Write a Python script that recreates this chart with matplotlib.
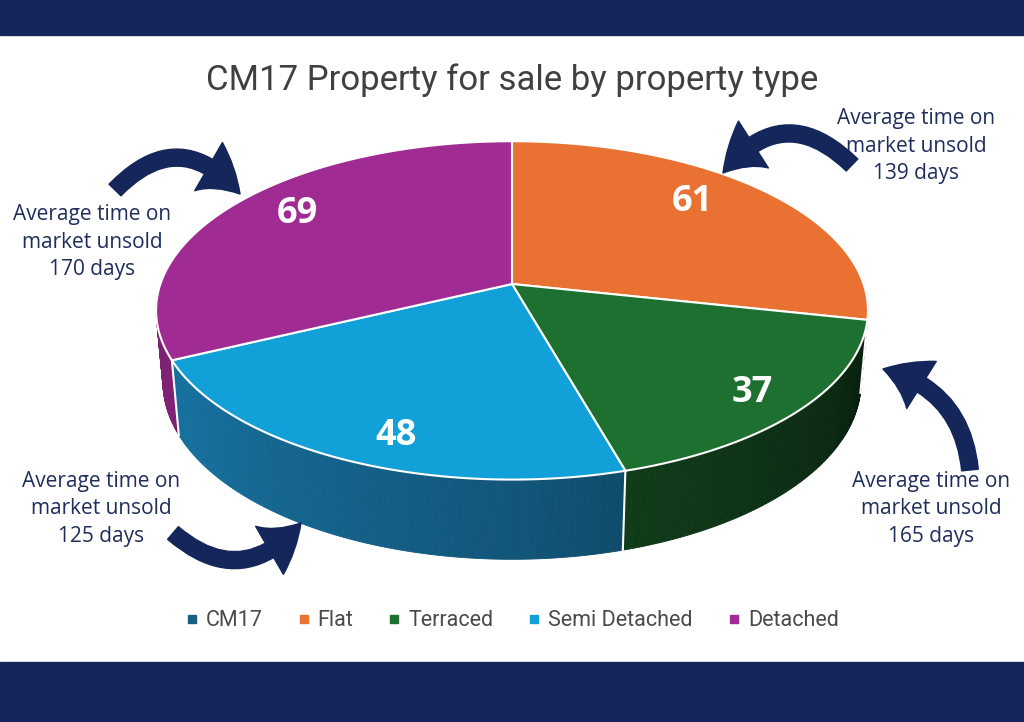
import numpy as np
import matplotlib
matplotlib.use('Agg')
import matplotlib.pyplot as plt
from matplotlib.patches import Polygon, Rectangle, FancyArrowPatch
from matplotlib.lines import Line2D
from matplotlib import font_manager

# ---------------- data ----------------
title = 'CM17 Property for sale by property type'
categories = ['Flat', 'Terraced', 'Semi Detached', 'Detached']
values = [61, 37, 48, 69]
legend_labels = ['CM17', 'Flat', 'Terraced', 'Semi Detached', 'Detached']
days_unsold = [139, 165, 125, 170]   # Flat, Terraced, Semi Detached, Detached

# ---------------- style ----------------
top_colors = ['#E97132', '#1E7030', '#12A0D8', '#A02B93']
wall_colors = ['#E97132', '#1E7030', '#1C8CC6', '#A02B93']
legend_colors = ['#156082', '#E97132', '#1E7030', '#12A0D8', '#A02B93']
navy = '#14265A'
note_color = '#1F2D5C'

names = {f.name for f in font_manager.fontManager.ttflist}
narrow = 'Liberation Sans Narrow' if 'Liberation Sans Narrow' in names else 'Roboto'

fig = plt.figure(figsize=(10.24, 7.22), dpi=100)
ax = fig.add_axes([0, 0, 1, 1])
ax.set_xlim(0, 1024)
ax.set_ylim(722, 0)
ax.axis('off')
fig.patch.set_facecolor('white')

ax.add_patch(Rectangle((0, 0), 1024, 35, color=navy, zorder=1))
ax.add_patch(Rectangle((0, 662), 1024, 60, color=navy, zorder=1))

# perspective projection of a unit-radius pie
CX, CY, F, D = 512, 284, 1990.0, 5.66
elev = np.radians(28)
ce, se = np.cos(elev), np.sin(elev)
HT = 0.234


def proj(X, Z, H):
    dc = D + Z * ce - H * se
    uc = Z * se + H * ce
    return CX + F * X / dc, CY - F * uc / dc


def rim(phi_deg, H=0.0, r=1.0):
    p = np.radians(phi_deg)
    return proj(r * np.cos(p), r * np.sin(p), H)


frac = np.array(values) / np.sum(values)
starts = 90 - 360 * np.concatenate([[0], np.cumsum(frac)[:-1]])
ends = starts - 360 * frac

# walls (front half)
shade_t = [0.0, 0.08, 0.39, 0.51, 0.83, 1.0]
shade_v = [0.25, 0.28, 0.52, 0.62, 0.80, 0.78]
for s0, s1, col in zip(starts, ends, wall_colors):
    hi, lo = min(s0, 0.0), max(s1, -180.0)
    if hi <= lo:
        continue
    base = np.array(matplotlib.colors.to_rgb(col))
    n = max(int((hi - lo) / 0.5), 2)
    ph = np.linspace(hi, lo, n + 1)
    for a, b in zip(ph[:-1], ph[1:]):
        pts = [rim(a), rim(b), rim(b, -HT), rim(a, -HT)]
        sh = np.interp(-(a + b) / 2 / 180, shade_t, shade_v)
        c = np.clip(base * sh, 0, 1)
        ax.add_patch(Polygon(pts, closed=True, facecolor=c, edgecolor=c,
                             lw=0.6, zorder=2))
# white seams on wall
for s in starts:
    sm = ((s + 180) % 360) - 180
    if -180 < sm < 0:
        x0, y0 = rim(sm)
        x1, y1 = rim(sm, -HT)
        ax.plot([x0, x1], [y0, y1], color='white', lw=1.5, zorder=2.5)

# top faces
for s0, s1, col in zip(starts, ends, top_colors):
    ph = np.linspace(s0, s1, 200)
    pts = [proj(0, 0, 0)] + [rim(p) for p in ph]
    ax.add_patch(Polygon(pts, closed=True, facecolor=col, edgecolor='white',
                         lw=1.5, joinstyle='round', zorder=3))

# data labels
label_geom = [(0.72, -4, -12), (0.85, 0, 4), (0.80, 15, 16), (0.74, -7, -9)]
for s0, s1, v, (r, dx, dy) in zip(starts, ends, values, label_geom):
    x, y = rim((s0 + s1) / 2, r=r)
    ax.text(x + dx, y + dy, str(v), ha='center', va='center', color='white',
            fontsize=26, fontweight='bold', family='Open Sans', zorder=5)

# title
t = ax.text(512, 80, title, ha='center', va='center', color='#404040',
            fontsize=26, family=narrow, zorder=5)
r_ = fig.canvas.get_renderer()
w = t.get_window_extent(r_).width
t.set_fontsize(26 * 613 / w)

# notes
note_pos = {'Flat': (916, 146), 'Terraced': (931, 509),
            'Semi Detached': (101, 509), 'Detached': (92, 242)}
for cat, d in zip(categories, days_unsold):
    x, y = note_pos[cat]
    ax.text(x, y, f'Average time on\nmarket unsold\n{d} days', ha='center',
            va='center', color=note_color, fontsize=15, family='Open Sans',
            linespacing=1.42, zorder=5)

# arrows
arrows = [((115, 190), (240, 194), -0.55),
          ((852, 165), (723, 173), 0.55),
          ((970, 470), (883, 369), 0.35),
          ((173, 533), (301, 523), 0.5)]
for a, b, rad in arrows:
    ax.add_patch(FancyArrowPatch(a, b, connectionstyle=f'arc3,rad={rad}',
                                 arrowstyle='simple,head_width=40,head_length=30,tail_width=12',
                                 color=navy, shrinkA=0, shrinkB=0, zorder=6))

# legend
handles = [Line2D([], [], marker='s', ls='', markersize=6, color=c) for c in legend_colors]
leg = fig.legend(handles, legend_labels, ncol=5, loc='center',
                 bbox_to_anchor=(0.5, 1 - 621 / 722), frameon=False,
                 handlelength=0.6, handletextpad=0.35,
                 columnspacing=1.6, prop={'family': narrow, 'size': 15.5})
for tt in leg.get_texts():
    tt.set_color('#4A4A4A')

fig.savefig('out.png', dpi=100, facecolor='white')
